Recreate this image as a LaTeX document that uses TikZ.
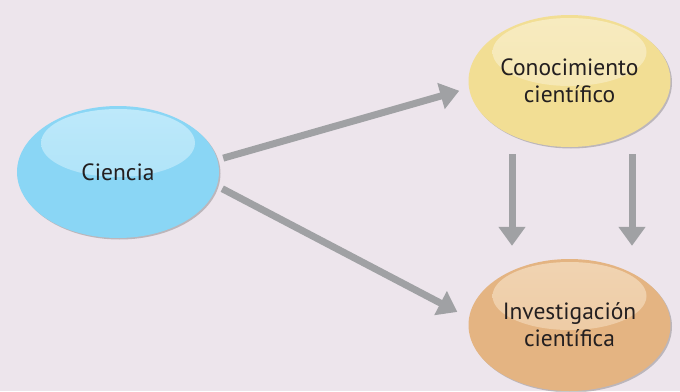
\documentclass[tikz,border=0pt]{standalone}
\usepackage{fontspec}
\setmainfont{PT Sans}
\usepackage{tikz}
\usetikzlibrary{positioning}
\usetikzlibrary{shapes.geometric}
\usetikzlibrary{arrows.meta, shadows}
\usepackage{xcolor}
\definecolor{mybg}{RGB}{237, 229, 236}
\definecolor{mysky}{RGB}{138, 214, 245}
\definecolor{myskylight}{RGB}{190, 233, 250}
\definecolor{mysand}{RGB}{242, 222, 148}
\definecolor{mysandlight}{RGB}{247, 235, 192}
\definecolor{myapricot}{RGB}{228, 180, 130}
\definecolor{myapricotlight}{RGB}{241, 212, 178}
\definecolor{mygrey}{RGB}{160, 161, 164}
\definecolor{mytext}{RGB}{35, 31, 32}

\begin{document}
\begin{tikzpicture}[
            x=1pt, y=-1pt,
            bubble/.style 2 args={
                ellipse,
                fill=#1,
                draw=none,
                minimum width=202pt,
                minimum height=132pt,
                inner sep=0pt,
                align=center,
                text=mytext,
                font=\fontsize{23.5}{27}\selectfont,
                drop shadow={shadow xshift=1.5pt, shadow yshift=-1.5pt, opacity=0.3, fill=black!70},
                path picture={
                    \shade[top color=#2, bottom color=#2!50!#1]
                        ([yshift=-37pt]path picture bounding box.north) ellipse [x radius=77pt, y radius=34pt];
                }
            },
            link/.style={
                draw=mygrey,
                line width=7pt,
                -{Triangle[width=26pt, length=19pt]}
            }
        ]

            % Background
            \useasboundingbox (0,0) rectangle (680,391);
            \fill[mybg] (0,0) rectangle (680,391);

            % Nodes
            \node[bubble={mysky}{myskylight}] (ciencia) at (118,172) {Ciencia};
            \node[bubble={mysand}{mysandlight}] (conocimiento) at (569.5,81) {Conocimiento\\científico};
            \node[bubble={myapricot}{myapricotlight}] (investigacion) at (569.5,325) {Investigación\\científica};

            % Arrows
            \draw[link, shorten <=6pt, shorten >=10pt] (ciencia.7) -- (conocimiento.184);
            \draw[link, shorten <=6pt, shorten >=13pt] (ciencia.352) -- (investigacion.176);
            \draw[link, shorten <=7pt, shorten >=13pt] ([xshift=-57.5pt]conocimiento.south) -- ([xshift=-57.5pt]investigacion.north);
            \draw[link, shorten <=7pt, shorten >=13pt] ([xshift=62.5pt]conocimiento.south) -- ([xshift=62.5pt]investigacion.north);
        \end{tikzpicture}
\end{document}
